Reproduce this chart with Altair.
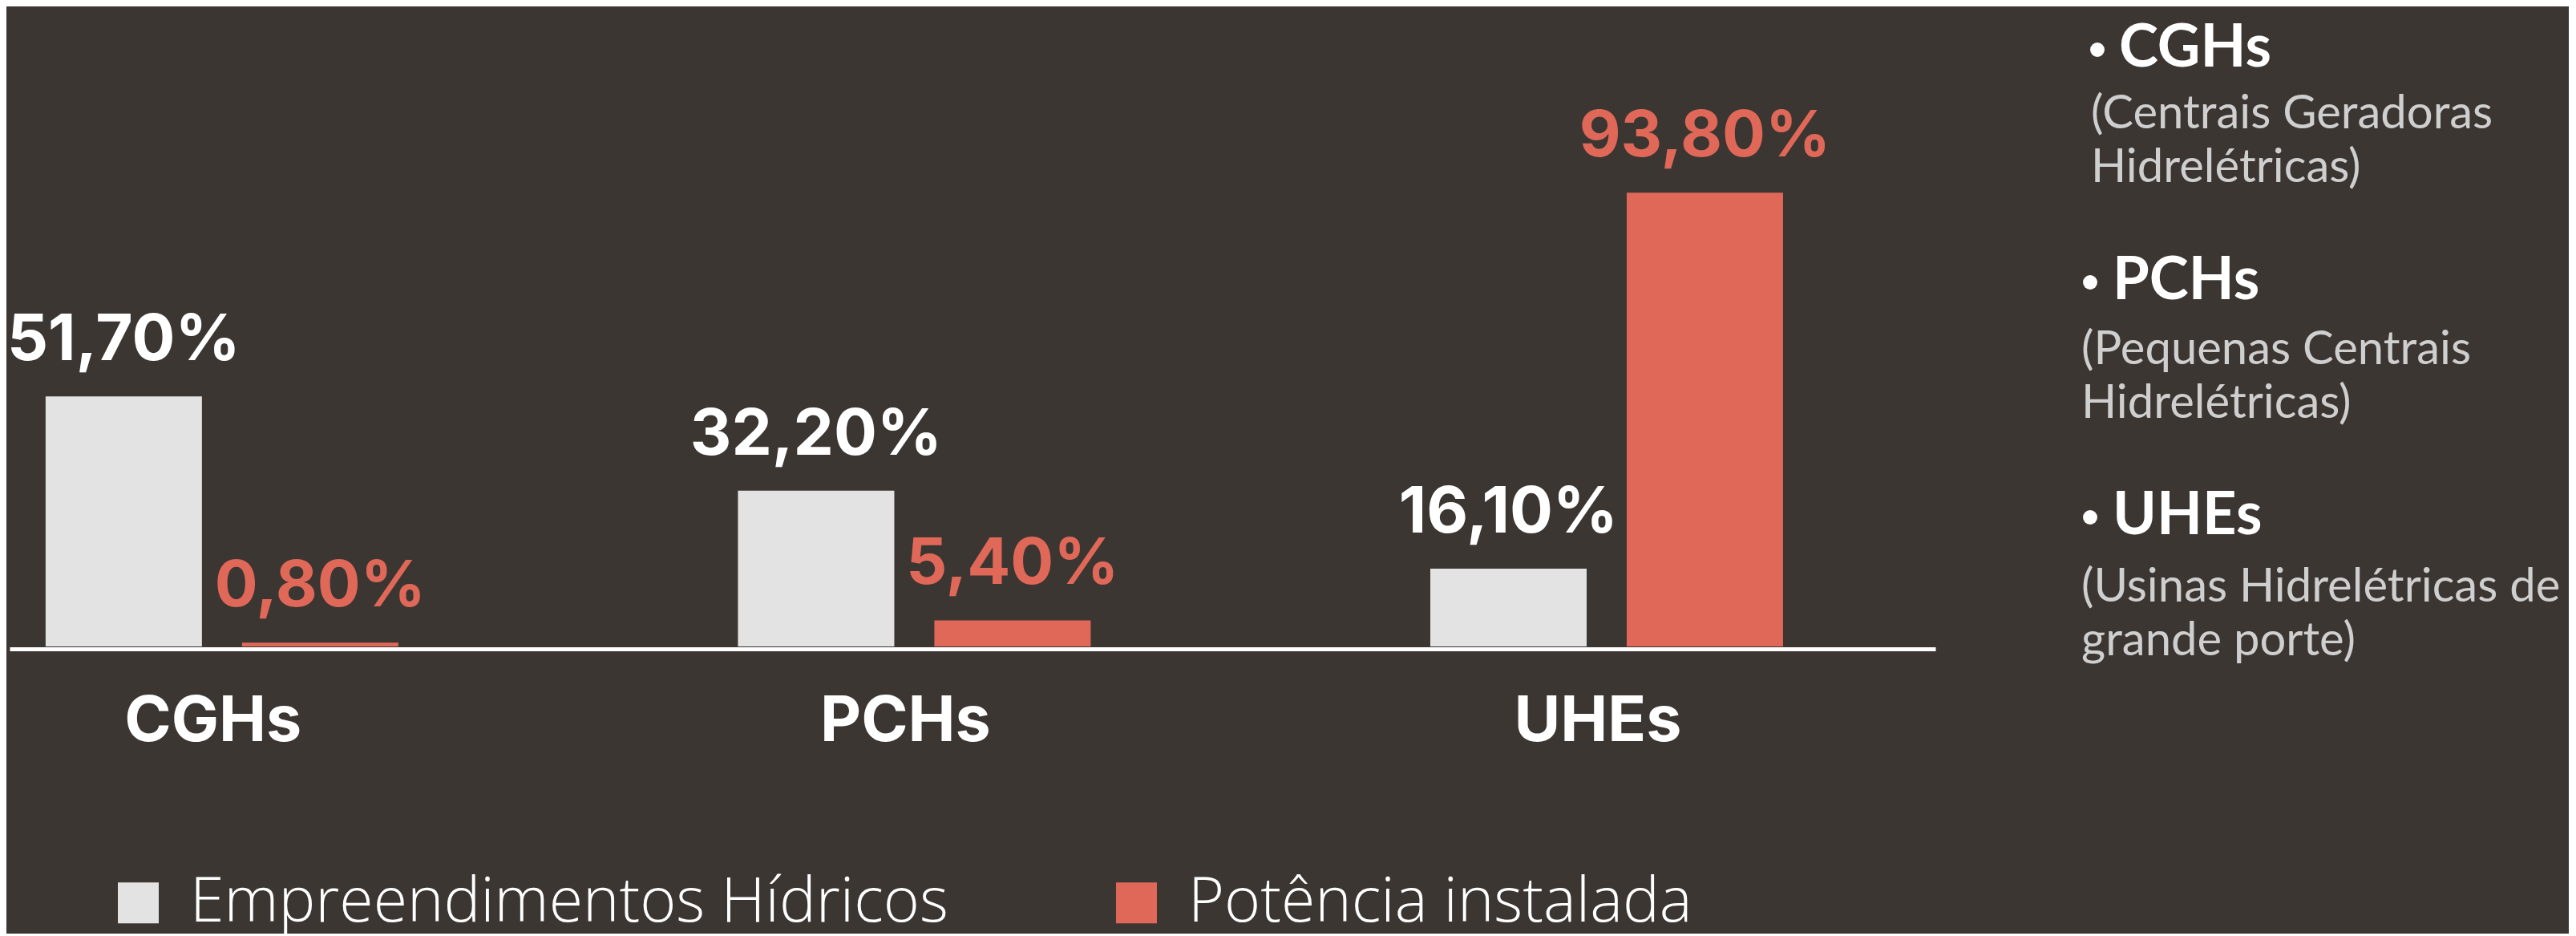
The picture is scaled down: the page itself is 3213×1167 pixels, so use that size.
import altair as alt
import pandas as pd

categorias = ["CGHs", "PCHs", "UHEs"]
series = ["Empreendimentos Hídricos", "Potência instalada"]
empreendimentos = [51.7, 32.2, 16.1]
potencia = [0.8, 5.4, 93.8]

siglas = ["CGHs", "PCHs", "UHEs"]
descricoes = [
    ["(Centrais Geradoras", "Hidrelétricas)"],
    ["(Pequenas Centrais", "Hidrelétricas)"],
    ["(Usinas Hidrelétricas de", "grande porte)"],
]

rows = []
for c, a, b in zip(categorias, empreendimentos, potencia):
    rows.append({"categoria": c, "serie": series[0], "valor": a})
    rows.append({"categoria": c, "serie": series[1], "valor": b})
df = pd.DataFrame(rows)
df["rotulo"] = df["valor"].map(lambda v: f"{v:.2f}".replace(".", ",") + "%")

BG = "#3c3633"
RED = "#e06858"
LIGHT = "#e3e3e3"
NUMFONT = "Inter"
TXTFONT = "Lato"

x = alt.X(
    "categoria:N",
    sort=categorias,
    scale=alt.Scale(paddingInner=0.4905, paddingOuter=0.136, align=0.191),
    axis=alt.Axis(
        title=None, labelAngle=0, labelFont=NUMFONT, labelFontSize=79,
        labelFontWeight="bold", labelColor="white", ticks=False, tickSize=0,
        labelPadding=52, labelLimit=1000, labelOffset=-11, domainColor="white",
        domainWidth=5, offset=3, grid=False,
    ),
)
xo = alt.XOffset("serie:N", sort=series, scale=alt.Scale(paddingInner=0.204, paddingOuter=0))
y = alt.Y("valor:Q", scale=alt.Scale(domain=[0, 132.3], nice=False), axis=None)

base = alt.Chart(df)
bars = base.mark_bar().encode(
    x=x, xOffset=xo, y=y,
    color=alt.Color(
        "serie:N", sort=series,
        scale=alt.Scale(domain=series, range=[LIGHT, RED]),
        legend=alt.Legend(
            title=None, orient="none", legendX=122, legendY=1079,
            direction="horizontal", symbolType="square", symbolSize=2600,
            symbolStrokeWidth=0, symbolOpacity=1, labelFont="Open Sans",
            labelFontSize=77, labelFontWeight=300, labelColor="white",
            labelOffset=26, columnPadding=196, labelLimit=2000,
        ),
    ),
)
labels = base.mark_text(
    font=NUMFONT, fontSize=80, fontWeight="bold", baseline="alphabetic", dy=-45
).encode(
    x=x, xOffset=xo, y=y, text="rotulo:N",
    color=alt.Color("serie:N", sort=series,
                    scale=alt.Scale(domain=series, range=["white", RED]), legend=None),
)

one = pd.DataFrame({"k": [0]})
bullet_x = [2612, 2603, 2603]
head_x = [2639, 2631, 2631]
head_y = [83, 373, 666]
sub_x = [2604, 2592, 2592]
sub_y = [160, 454, 750]
notes = []
for i in range(3):
    notes.append(
        alt.Chart(one).mark_circle(size=320, color="white", opacity=1).encode(
            x=alt.value(bullet_x[i] - 8), y=alt.value(head_y[i] - 21 - 8)
        )
    )
    notes.append(
        alt.Chart(one).mark_text(
            text=siglas[i], font=TXTFONT, fontSize=74, fontWeight="bold",
            color="white", align="left", baseline="alphabetic",
        ).encode(x=alt.value(head_x[i] - 8), y=alt.value(head_y[i] - 8))
    )
    notes.append(
        alt.Chart(one).mark_text(
            text=descricoes[i], font=TXTFONT, fontSize=58, lineHeight=67,
            color="#cfcfcf", align="left", baseline="alphabetic",
        ).encode(x=alt.value(sub_x[i] - 8), y=alt.value(sub_y[i] - 8))
    )

chart = alt.layer(bars, labels, *notes).resolve_scale(color="independent").properties(
    width=2402, height=798,
    background=BG,
    padding={"left": 0, "top": 0, "right": 10, "bottom": 0},
).configure_view(stroke=None)

chart.save("out.html", embed_options={"renderer": "svg", "actions": False})
